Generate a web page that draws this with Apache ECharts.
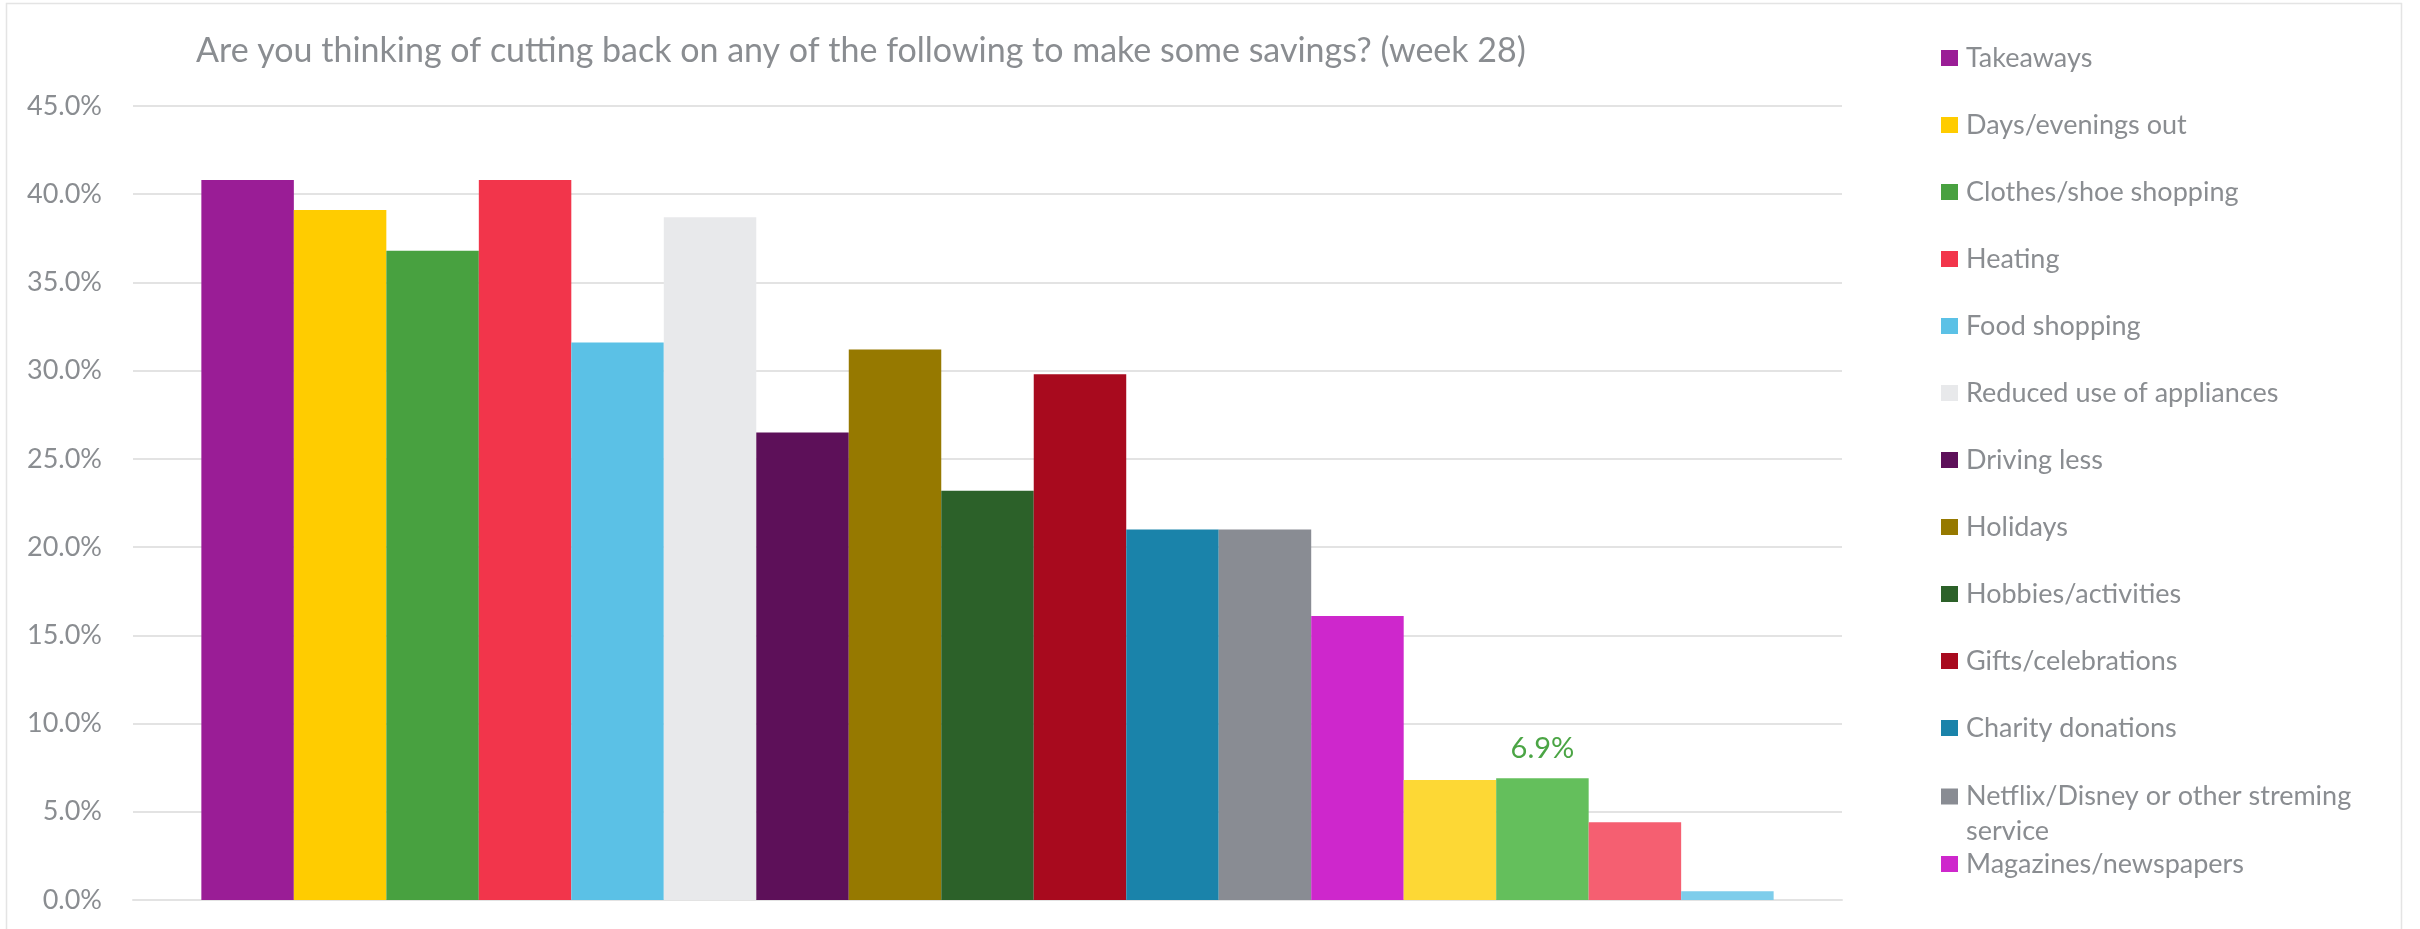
<!DOCTYPE html>
<html>
<head>
<meta charset="utf-8">
<script src="https://cdn.jsdelivr.net/npm/echarts@6/dist/echarts.min.js"></script>
<style>
html,body{margin:0;padding:0;background:#fff;}
#chart{width:2420px;height:929px;}
</style>
</head>
<body>
<div id="chart"></div>
<script>
const titleText = 'Are you thinking of cutting back on any of the following to make some savings? (week 28)';
const seriesNames = [
  'Takeaways', 'Days/evenings out', 'Clothes/shoe shopping', 'Heating', 'Food shopping',
  'Reduced use of appliances', 'Driving less', 'Holidays', 'Hobbies/activities',
  'Gifts/celebrations', 'Charity donations', 'Netflix/Disney or other streming service',
  'Magazines/newspapers', 'Series 14', 'Series 15', 'Series 16', 'Series 17'
];
const seriesValues = [40.8, 39.1, 36.8, 40.8, 31.6, 38.7, 26.5, 31.2, 23.2, 29.8, 21.0, 21.0, 16.1, 6.8, 6.9, 4.4, 0.5];
const seriesColors = [
  '#9A1D96', '#FFCC00', '#48A140', '#F2354B', '#5BC1E6', '#E8E9EB', '#5D1059', '#967900',
  '#2C6129', '#A80A1E', '#1A83AA', '#898C93', '#CE27CC', '#FDD835', '#64BF5C', '#F55F71', '#7ECDEB'
];
const labelledSeries = ['Series 15'];
const legendNamesA = seriesNames.slice(0, 11);
const legendNamesB = seriesNames.slice(11, 13);
const yTicks = { min: 0, max: 45, interval: 5 };

const FONT = 'Lato';
const GREY = '#8a8d91';

const chart = echarts.init(document.getElementById('chart'), null, { renderer: 'canvas' });

const series = seriesNames.map((name, i) => ({
  name: name,
  type: 'bar',
  data: [seriesValues[i]],
  itemStyle: { color: seriesColors[i] },
  barGap: '0%',
  barCategoryGap: '8%',
  label: {
    show: labelledSeries.includes(name),
    position: 'top',
    distance: 15,
    color: '#4ba545',
    fontFamily: FONT,
    fontSize: 29,
    formatter: p => p.value.toFixed(1) + '%'
  }
}));

const legendText = { color: GREY, fontFamily: FONT, fontSize: 27, lineHeight: 30, padding: [0, 0, 0, 3] };

chart.setOption({
  animation: false,
  backgroundColor: '#ffffff',
  title: {
    text: titleText,
    left: 196,
    top: 33,
    padding: 0,
    textStyle: { color: GREY, fontFamily: FONT, fontSize: 34, fontWeight: 'normal', lineHeight: 36 }
  },
  legend: [
    {
      orient: 'vertical',
      left: 1941,
      top: 43,
      padding: 0,
      itemWidth: 17,
      itemHeight: 16,
      itemGap: 37,
      icon: 'rect',
      data: legendNamesA,
      textStyle: legendText,
      selectedMode: false
    },
    {
      orient: 'vertical',
      left: 1941,
      top: 744,
      padding: 0,
      itemWidth: 17,
      itemHeight: 16,
      itemGap: 0,
      icon: 'rect',
      data: legendNamesB.map(n => n.indexOf('Netflix') === 0
        ? { name: n, textStyle: { lineHeight: 35 } }
        : { name: n }),
      formatter: n => n.indexOf('Netflix') === 0 ? ' \nNetflix/Disney or other streming\nservice' : n,
      textStyle: legendText,
      selectedMode: false
    }
  ],
  grid: { left: 133, right: 578, top: 106, bottom: 29, containLabel: false },
  xAxis: {
    type: 'category',
    data: [''],
    axisLine: { show: true, lineStyle: { color: '#e3e3e3', width: 2 } },
    axisTick: { show: false },
    axisLabel: { show: false }
  },
  yAxis: {
    type: 'value',
    min: yTicks.min,
    max: yTicks.max,
    interval: yTicks.interval,
    axisLine: { show: false },
    axisTick: { show: false },
    splitLine: { lineStyle: { color: '#e3e3e3', width: 2 } },
    axisLabel: {
      margin: 31,
      color: GREY,
      fontFamily: FONT,
      fontSize: 27,
      formatter: v => v.toFixed(1) + '%'
    }
  },
  graphic: [{
    type: 'rect',
    silent: true,
    z: -10,
    shape: { x: 6.5, y: 3.5, width: 2395, height: 940 },
    style: { fill: null, stroke: '#e4e4e4', lineWidth: 1.5 }
  }],
  series: series
});
</script>
</body>
</html>
